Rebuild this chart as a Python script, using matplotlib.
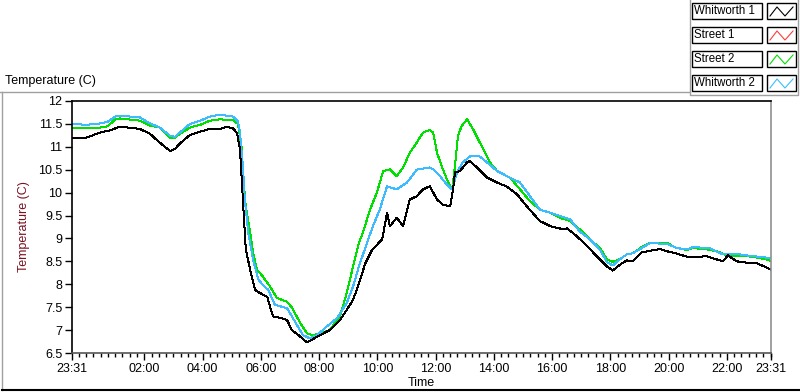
import matplotlib
matplotlib.use("Agg")
from matplotlib import pyplot as plt
from matplotlib.lines import Line2D
from matplotlib.patches import Rectangle
import matplotlib.dates as mdates
import pandas as pd

# clock readings, the run starts at 23:31 and ends at 23:31 the next day
w1_times = ["23:31", "00:00", "00:29", "00:49", "01:10", "01:51", "02:12", "02:32", "02:53", "03:03",
            "03:13", "03:34", "03:55", "04:15", "04:36", "04:50", "05:03", "05:11", "05:17", "05:21",
            "05:25", "05:29", "05:38", "05:48", "05:58", "06:13", "06:19", "06:25", "06:39", "06:54",
            "07:04", "07:21", "07:35", "07:47", "08:02", "08:22", "08:43", "08:57", "09:10", "09:20",
            "09:35", "09:49", "10:10", "10:20", "10:26", "10:40", "10:53", "11:07", "11:21", "11:34",
            "11:48", "12:03", "12:15", "12:30", "12:36", "12:40", "12:50", "13:05", "13:11", "13:25",
            "13:46", "14:07", "14:27", "14:48", "15:08", "15:35", "15:56", "16:23", "16:31", "16:51",
            "17:12", "17:39", "17:53", "18:05", "18:20", "18:34", "18:47", "19:05", "19:22", "19:42",
            "19:57", "20:17", "20:38", "20:58", "21:19", "21:40", "21:52", "22:02", "22:21", "22:41",
            "23:02", "23:23", "23:31"]
w1_temp = [11.20, 11.20, 11.31, 11.36, 11.44, 11.39, 11.28, 11.09, 10.91, 10.95,
           11.07, 11.26, 11.33, 11.39, 11.39, 11.44, 11.40, 11.30, 10.95, 10.22,
           9.49, 8.76, 8.32, 7.88, 7.81, 7.73, 7.51, 7.30, 7.27, 7.22,
           7.00, 6.86, 6.73, 6.80, 6.89, 7.00, 7.22, 7.44, 7.66, 7.95,
           8.45, 8.75, 8.98, 9.56, 9.27, 9.45, 9.27, 9.85, 9.92, 10.07,
           10.14, 9.85, 9.74, 9.70, 10.07, 10.44, 10.47, 10.66, 10.69, 10.55,
           10.33, 10.22, 10.13, 9.96, 9.70, 9.38, 9.27, 9.20, 9.22, 9.05,
           8.83, 8.54, 8.39, 8.30, 8.43, 8.52, 8.51, 8.70, 8.73, 8.77,
           8.72, 8.67, 8.60, 8.60, 8.61, 8.54, 8.50, 8.63, 8.50, 8.47,
           8.46, 8.36, 8.32]

s2_times = ["23:31", "00:00", "00:29", "00:45", "01:00", "01:10", "01:51", "02:12", "02:32", "02:53",
            "03:03", "03:13", "03:34", "03:55", "04:15", "04:36", "05:03", "05:13", "05:21", "05:23",
            "05:29", "05:38", "05:44", "05:52", "06:04", "06:19", "06:33", "06:54", "07:04", "07:21",
            "07:35", "07:47", "08:02", "08:22", "08:43", "08:57", "09:10", "09:22", "09:30", "09:45",
            "09:59", "10:12", "10:26", "10:40", "10:53", "11:07", "11:21", "11:34", "11:48", "11:55",
            "12:03", "12:15", "12:26", "12:34", "12:40", "12:46", "12:54", "13:05", "13:17", "13:38",
            "13:52", "14:07", "14:33", "14:54", "15:14", "15:35", "15:56", "16:16", "16:37", "16:57",
            "17:18", "17:39", "17:53", "18:05", "18:20", "18:34", "18:47", "19:07", "19:22", "19:57",
            "20:17", "20:38", "20:50", "21:19", "21:40", "22:00", "22:27", "22:54", "23:23", "23:31"]
s2_temp = [11.42, 11.42, 11.42, 11.45, 11.60, 11.62, 11.57, 11.46, 11.42, 11.20,
           11.20, 11.28, 11.42, 11.48, 11.57, 11.60, 11.58, 11.50, 10.95, 10.44,
           9.70, 9.13, 8.69, 8.32, 8.17, 7.95, 7.70, 7.62, 7.49, 7.16,
           6.93, 6.89, 6.93, 7.00, 7.30, 7.81, 8.39, 8.90, 9.12, 9.63,
           10.00, 10.47, 10.51, 10.36, 10.55, 10.87, 11.09, 11.31, 11.37, 11.31,
           10.87, 10.51, 10.22, 10.07, 10.58, 11.24, 11.46, 11.60, 11.39, 10.95,
           10.66, 10.47, 10.33, 10.07, 9.82, 9.63, 9.56, 9.45, 9.38, 9.20,
           8.98, 8.79, 8.54, 8.49, 8.55, 8.65, 8.68, 8.83, 8.90, 8.90,
           8.79, 8.75, 8.79, 8.76, 8.72, 8.63, 8.62, 8.60, 8.54, 8.51]

w2_times = ["23:31", "00:00", "00:29", "00:45", "01:00", "01:10", "01:51", "02:12", "02:32", "02:53",
            "03:03", "03:13", "03:34", "03:55", "04:15", "04:36", "05:03", "05:13", "05:17", "05:23",
            "05:27", "05:34", "05:44", "05:55", "06:04", "06:15", "06:29", "06:54", "07:10", "07:27",
            "07:41", "07:56", "08:16", "08:37", "08:57", "09:10", "09:22", "09:37", "09:51", "10:05",
            "10:20", "10:40", "11:01", "11:21", "11:48", "11:55", "12:09", "12:23", "12:34", "12:44",
            "12:56", "13:11", "13:31", "13:46", "14:07", "14:33", "14:54", "15:14", "15:35", "15:56",
            "16:37", "16:57", "17:18", "17:39", "17:53", "18:05", "18:20", "18:34", "18:47", "19:22",
            "19:57", "20:17", "20:38", "20:50", "21:25", "21:52", "22:21", "22:48", "23:23", "23:31"]
w2_temp = [11.50, 11.48, 11.51, 11.55, 11.66, 11.68, 11.64, 11.51, 11.42, 11.24,
           11.22, 11.31, 11.50, 11.57, 11.66, 11.70, 11.66, 11.55, 11.32, 10.58,
           9.85, 9.13, 8.54, 8.10, 7.99, 7.88, 7.55, 7.48, 7.19, 6.89,
           6.82, 6.89, 7.08, 7.26, 7.59, 7.95, 8.39, 8.85, 9.27, 9.63,
           10.14, 10.07, 10.22, 10.50, 10.55, 10.51, 10.36, 10.18, 10.07, 10.44,
           10.66, 10.79, 10.79, 10.66, 10.47, 10.33, 10.22, 9.93, 9.63, 9.56,
           9.42, 9.15, 8.98, 8.75, 8.48, 8.41, 8.55, 8.65, 8.68, 8.90,
           8.88, 8.79, 8.76, 8.81, 8.79, 8.65, 8.66, 8.62, 8.58, 8.57]

legend_names = ["Whitworth 1", "Street 1", "Street 2", "Whitworth 2"]
legend_colors = ["#000000", "#ff3b3b", "#00e000", "#3cbcff"]

y_ticks = [6.5, 7, 7.5, 8, 8.5, 9, 9.5, 10, 10.5, 11, 11.5, 12]
x_tick_labels = ["23:31", "02:00", "04:00", "06:00", "08:00", "10:00", "12:00",
                 "14:00", "16:00", "18:00", "20:00", "22:00", "23:31"]

START = pd.Timestamp("2000-01-01 23:31")


def to_datetimes(times):
    """turn clock strings into timestamps, rolling to the next day after midnight"""
    out = []
    day = 0
    prev = None
    for t in times:
        hh, mm = t.split(":")
        minutes = int(hh) * 60 + int(mm)
        if prev is not None and minutes < prev:
            day += 1
        prev = minutes
        out.append(pd.Timestamp("2000-01-01") + pd.Timedelta(days=day, minutes=minutes))
    return out


W, H = 800, 392
fig = plt.figure(figsize=(W / 100, H / 100), dpi=100)
plt.rcParams['font.family'] = ['Liberation Sans', 'DejaVu Sans']


def fx(px):
    return px / W


def fy(py):
    return 1 - py / H


ax = fig.add_axes([fx(72), fy(353), fx(771) - fx(72), fy(101) - fy(353)])

ax.plot(to_datetimes(s2_times), s2_temp, color=legend_colors[2], lw=0.72, antialiased=False)
ax.plot(to_datetimes(w2_times), w2_temp, color=legend_colors[3], lw=0.72, antialiased=False)
ax.plot(to_datetimes(w1_times), w1_temp, color=legend_colors[0], lw=0.72, antialiased=False)

end = START + pd.Timedelta(days=1)
ax.set_xlim(START, end)
ax.set_ylim(6.5, 12)

# major ticks: the two ends plus every second hour
major = [START] + [pd.Timestamp("2000-01-02") + pd.Timedelta(hours=h) for h in range(2, 23, 2)] + [end]
ax.xaxis.set_major_locator(matplotlib.ticker.FixedLocator(mdates.date2num(major)))
ax.set_xticklabels(x_tick_labels)
minor = pd.date_range("2000-01-01 23:45", end, freq="15min")
ax.xaxis.set_minor_locator(matplotlib.ticker.FixedLocator(mdates.date2num(minor)))

ax.set_yticks(y_ticks)
ax.set_yticklabels(["%g" % v for v in y_ticks])

ax.tick_params(axis="both", which="major", direction="out", length=5, width=1, labelsize=9, pad=2)
ax.tick_params(axis="x", which="minor", direction="out", length=3, width=1)

ax.spines["left"].set_color("black")
ax.spines["top"].set_color("black")
ax.spines["bottom"].set_color("#555555")
ax.spines["right"].set_color("#909090")
for s in ax.spines.values():
    s.set_linewidth(1.2)

ax.set_xlabel("Time", fontsize=9, labelpad=2)
ax.set_ylabel("Temperature (C)", fontsize=9, color="#7a1020", labelpad=6)

fig.text(fx(5), fy(81), "Temperature (C)", fontsize=9, ha="left", va="center")

# outer frame around the graph
gray = "#a0a0a0"
fig.add_artist(Line2D([fx(0), fx(690)], [fy(92), fy(92)], color=gray, lw=1, transform=fig.transFigure))
fig.add_artist(Line2D([fx(2), fx(2)], [fy(92), fy(390)], color=gray, lw=1, transform=fig.transFigure))
fig.add_artist(Line2D([fx(2), fx(800)], [fy(390), fy(390)], color="black", lw=1.5, transform=fig.transFigure))

# legend panel
fig.add_artist(Line2D([fx(690), fx(690), fx(798), fx(798)], [fy(0), fy(95), fy(95), fy(0)],
                      color=gray, lw=1, transform=fig.transFigure))
for i, (name, col) in enumerate(zip(legend_names, legend_colors)):
    top = 3 + i * 24
    fig.add_artist(Rectangle((fx(692), fy(top + 16)), fx(70), 16 / H, facecolor="white",
                             edgecolor="black", lw=1, transform=fig.transFigure))
    fig.text(fx(694), fy(top + 8), name, fontsize=8.3, ha="left", va="center")
    fig.add_artist(Rectangle((fx(767), fy(top + 16)), fx(29), 16 / H, facecolor="white",
                             edgecolor="black", lw=1, transform=fig.transFigure))
    zx = [770, 777, 785, 793]
    zy = [top + 13, top + 4, top + 13, top + 4]
    fig.add_artist(Line2D([fx(v) for v in zx], [fy(v) for v in zy], color=col, lw=0.8,
                          transform=fig.transFigure))

fig.savefig("out.png", dpi=100)
